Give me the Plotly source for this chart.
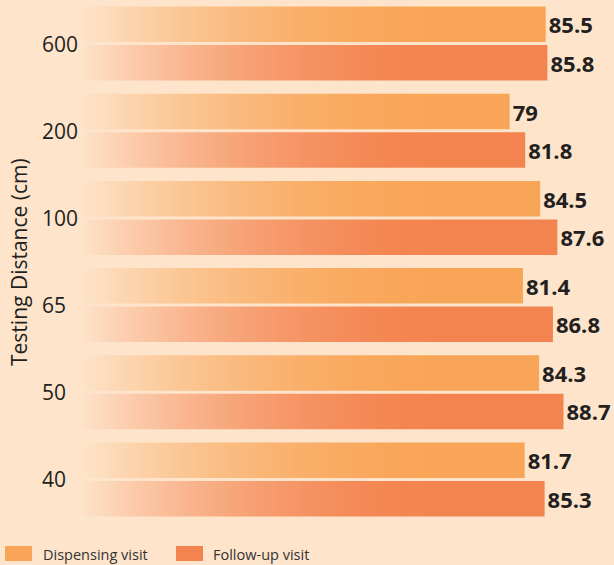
import base64
import struct
import zlib
import plotly.graph_objects as go

# ---- data ----
distances = ["40", "50", "65", "100", "200", "600"]
dispensing = [81.7, 84.3, 81.4, 84.5, 79, 85.5]
follow_up = [85.3, 88.7, 86.8, 87.6, 81.8, 85.8]
series_names = ["Dispensing visit", "Follow-up visit"]
axis_title = "Testing Distance (cm)"

# ---- style ----
BG = "#FDE4CB"
C_DISP = "#F9A557"
C_FOLL = "#F4844F"
TXT = "#231F20"
FONT = "Open Sans"

W, H = 614, 565
ML, MR, MT, MB = 80, 0, 0, 42
PW, PH = W - ML - MR, H - MT - MB
X0, X1 = 1.6, 97.8          # x-axis range
GRAD_END = 70.0             # where the fade reaches full colour


def px_x(p):
    return (p - ML) / PW


def px_y(p):
    return (PH - (p - MT)) / PH


def gradient_png(n=256):
    """1-pixel-high RGBA strip: background colour fading to transparent."""
    r, g, b = int(BG[1:3], 16), int(BG[3:5], 16), int(BG[5:7], 16)
    row = bytearray([0])
    for i in range(n):
        t = i / (n - 1)
        a = int(round(255 * (1 - t) ** 2))
        row += bytes([r, g, b, a])
    raw = bytes(row)

    def chunk(tag, data):
        c = struct.pack(">I", len(data)) + tag + data
        return c + struct.pack(">I", zlib.crc32(tag + data) & 0xFFFFFFFF)

    png = b"\x89PNG\r\n\x1a\n"
    png += chunk(b"IHDR", struct.pack(">IIBBBBB", n, 1, 8, 6, 0, 0, 0))
    png += chunk(b"IDAT", zlib.compress(raw, 9))
    png += chunk(b"IEND", b"")
    return "data:image/png;base64," + base64.b64encode(png).decode()


fig = go.Figure()
# follow-up first -> lower bar of each pair
for name, vals, col in [(series_names[1], follow_up, C_FOLL),
                        (series_names[0], dispensing, C_DISP)]:
    fig.add_trace(go.Bar(
        y=distances, x=vals, orientation="h", name=name,
        marker=dict(color=col, line=dict(width=0)),
        text=vals, texttemplate="%{x}", textposition="outside",
        textfont=dict(family=FONT, size=22, color=TXT, weight="bold"),
        constraintext="none", cliponaxis=False, showlegend=False,
        hoverinfo="x+name",
    ))

annotations = []
for i, d in enumerate(distances):
    annotations.append(dict(
        x=px_x(40), xref="paper", xanchor="left",
        y=i, yref="y", yanchor="middle",
        text=d, showarrow=False,
        font=dict(family=FONT, size=21, color=TXT),
    ))
annotations.append(dict(
    x=px_x(19), xref="paper", xanchor="center",
    y=px_y(262), yref="paper", yanchor="middle",
    text=axis_title, textangle=-90, showarrow=False,
    font=dict(family=FONT, size=21, color=TXT),
))

# custom legend
shapes = []
for (x0, x1, tx), name, col in zip([(5, 32, 41), (176, 203, 211)],
                                    series_names, [C_DISP, C_FOLL]):
    shapes.append(dict(type="rect", xref="paper", yref="paper",
                       x0=px_x(x0), x1=px_x(x1), y0=px_y(561), y1=px_y(546),
                       fillcolor=col, line=dict(width=0), layer="above"))
    annotations.append(dict(
        x=px_x(tx), xref="paper", xanchor="left",
        y=px_y(554), yref="paper", yanchor="middle",
        text=name, showarrow=False,
        font=dict(family=FONT, size=14.5, color="#333333"),
    ))

fig.update_layout(
    width=W, height=H,
    margin=dict(l=ML, r=MR, t=MT, b=MB, pad=0),
    paper_bgcolor=BG, plot_bgcolor=BG,
    barmode="group", bargap=0.117, bargroupgap=0.078,
    font=dict(family=FONT, color=TXT),
    xaxis=dict(range=[X0, X1], visible=False, fixedrange=True),
    yaxis=dict(type="category", categoryorder="array", categoryarray=distances,
               range=[-0.5, 5.5], showticklabels=False, showgrid=False,
               zeroline=False, showline=False, ticks="", fixedrange=True),
    annotations=annotations,
    shapes=shapes,
    images=[dict(source=gradient_png(), xref="x", yref="paper",
                 x=X0, y=1, sizex=GRAD_END - X0, sizey=1,
                 sizing="stretch", xanchor="left", yanchor="top",
                 layer="above", opacity=1)],
)

fig.write_html(
    "out.html",
    config={"displayModeBar": False},
    post_script=("document.body.style.margin='0';"
                 "document.body.style.padding='0';"
                 "document.documentElement.style.overflow='hidden';"
                 f"document.body.style.background='{BG}';"),
)
